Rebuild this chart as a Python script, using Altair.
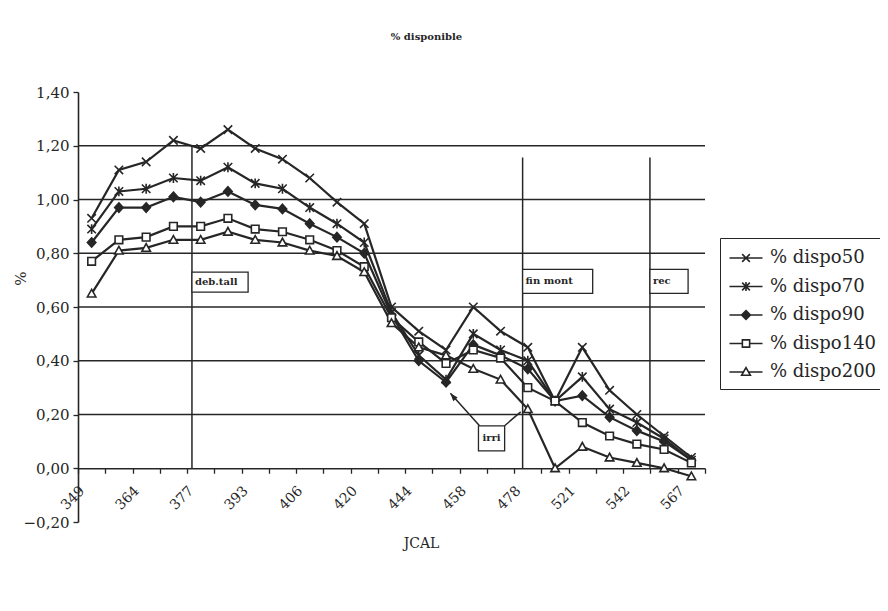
import altair as alt
import pandas as pd

# ---------------- data ----------------
tick_labels = ['349', '364', '377', '393', '406', '420', '444', '458', '478', '521', '542', '567']
series_names = ['% dispo50', '% dispo70', '% dispo90', '% dispo140', '% dispo200']

dispo50 = [0.93, 1.11, 1.14, 1.22, 1.19, 1.26, 1.19, 1.15, 1.08, 0.99, 0.91, 0.60,
           0.51, 0.44, 0.60, 0.51, 0.45, 0.25, 0.45, 0.29, 0.20, 0.12, 0.04]
dispo70 = [0.89, 1.03, 1.04, 1.08, 1.07, 1.12, 1.06, 1.04, 0.97, 0.91, 0.84, 0.58,
           0.42, 0.33, 0.50, 0.44, 0.40, 0.25, 0.34, 0.22, 0.17, 0.11, 0.03]
dispo90 = [0.84, 0.97, 0.97, 1.01, 0.99, 1.03, 0.98, 0.965, 0.91, 0.86, 0.80, 0.57,
           0.40, 0.32, 0.46, 0.42, 0.37, 0.25, 0.27, 0.19, 0.14, 0.10, 0.03]
dispo140 = [0.77, 0.85, 0.86, 0.90, 0.90, 0.93, 0.89, 0.88, 0.85, 0.81, 0.75, 0.56,
            0.47, 0.39, 0.44, 0.41, 0.30, 0.25, 0.17, 0.12, 0.09, 0.07, 0.02]
dispo200 = [0.65, 0.81, 0.82, 0.85, 0.85, 0.88, 0.85, 0.84, 0.81, 0.79, 0.73, 0.54,
            0.45, 0.42, 0.37, 0.33, 0.22, 0.00, 0.08, 0.04, 0.02, 0.00, -0.03]
all_series = [dispo50, dispo70, dispo90, dispo140, dispo200]

grid_values = [0.2, 0.4, 0.6, 0.8, 1.0, 1.2]

# phase markers (vertical lines + labelled boxes), in category-index units
phase_labels = ['deb.tall', 'fin mont', 'rec']
phase_x = [3.68, 15.81, 20.48]
phase_top = [1.20, 1.156, 1.156]
phase_box_x2 = [5.74, 18.38, 21.88]
phase_box_top = [0.73, 0.74, 0.74]
phase_box_bottom = [0.655, 0.651, 0.651]

# "irri" annotation
irri_label = ['irri']
irri_box_x = [14.19, 15.15]
irri_box_y = [0.158, 0.065]
irri_line_from_x = [14.23, 15.15]
irri_line_from_y = [0.158, 0.158]
irri_line_to_x = [13.16, 15.74]
irri_line_to_y = [0.279, 0.21]

# ---------------- tables ----------------
rows = []
for name, vals in zip(series_names, all_series):
    for i, v in enumerate(vals):
        rows.append({'idx': i, 'v': v, 'series': name})
df = pd.DataFrame(rows)
n = len(dispo50)

grid_df = pd.DataFrame({'g': grid_values})
phase_df = pd.DataFrame({'x': phase_x, 'top': phase_top, 'bottom': [0.0] * len(phase_x),
                         'x2': phase_box_x2, 'bt': phase_box_top, 'bb': phase_box_bottom,
                         'label': phase_labels})
phase_df['bm'] = (phase_df['bt'] + phase_df['bb']) / 2
irri_box_df = pd.DataFrame({'x': [irri_box_x[0]], 'x2': [irri_box_x[1]],
                            'bt': [irri_box_y[0]], 'bb': [irri_box_y[1]], 'label': irri_label})
irri_box_df['bm'] = (irri_box_df['bt'] + irri_box_df['bb']) / 2
irri_line_df = pd.DataFrame({'x': irri_line_from_x, 'y': irri_line_from_y,
                             'x2': irri_line_to_x, 'y2': irri_line_to_y})
arrow_df = pd.DataFrame({'x': [irri_line_to_x[0]], 'y': [irri_line_to_y[0]]})

# ---------------- styling ----------------
INK = '#262626'
SERIF = 'DejaVu Serif'
W, H = 627, 430

marker_paths = [
    'M-1,-1L1,1M-1,1L1,-1',
    'M-1,-1L1,1M-1,1L1,-1M0,-1.15L0,1.15',
    'M0,-1.1L1,0L0,1.1L-1,0Z',
    'M-0.9,-0.9H0.9V0.9H-0.9Z',
    'M0,-1L1,0.8H-1Z',
]
marker_fills = [INK, INK, INK, 'white', 'white']
# legend symbols: a short line with the marker in its middle (stroke only)
legend_paths = [
    'M-1.5,0H1.5M-0.35,-0.35L0.35,0.35M-0.35,0.35L0.35,-0.35',
    'M-1.5,0H1.5M-0.35,-0.35L0.35,0.35M-0.35,0.35L0.35,-0.35M0,-0.42V0.42',
    'M-1.5,0H1.5M0,-0.4L0.4,0L0,0.4L-0.4,0ZM0,-0.26L0.26,0L0,0.26L-0.26,0ZM0,-0.12L0.12,0L0,0.12L-0.12,0Z',
    'M-1.5,0H-0.33M0.33,0H1.5M-0.33,-0.33H0.33V0.33H-0.33Z',
    'M-1.5,0H-0.23M0.23,0H1.5M0,-0.4L0.4,0.3H-0.4Z',
]

xscale = alt.Scale(domain=[-0.5, n - 0.5], nice=False, zero=False)
yscale = alt.Scale(domain=[-0.2, 1.4], nice=False, zero=False)

labels_js = '[' + ','.join("'%s'" % t for t in tick_labels) + ']'
x_label_expr = ("(datum.value + 0.5) %% 2 == 0 && (datum.value + 0.5) <= %d ? %s[(datum.value + 0.5) / 2] : ''"
                % (n - 1, labels_js))

x_axis = alt.Axis(
    values=[i - 0.5 for i in range(n + 1)], labelExpr=x_label_expr,
    labelAngle=315, labelAlign='right', labelBaseline='middle',
    labelOffset=4, labelPadding=15, labelOverlap=False, labelFlush=False, labelBound=False,
    tickSize=5, tickColor=INK, tickWidth=1.3, domainColor=INK, domainWidth=1.6,
    offset=-H * 0.2 / 1.6, grid=False,
    labelFont=SERIF, labelFontSize=14, labelColor=INK,
    title='JCAL', titleFont=SERIF, titleFontSize=14, titleFontWeight='normal', titleColor=INK,
    titleX=343, titleY=75, titleAlign='center', titleBaseline='middle',
)
y_axis = alt.Axis(
    values=[-0.2, 0.0, 0.2, 0.4, 0.6, 0.8, 1.0, 1.2, 1.4],
    labelExpr="replace(format(datum.value, '.2f'), '.', ',')",
    tickSize=5, tickColor=INK, tickWidth=1.3, domainColor=INK, domainWidth=1.6,
    labelPadding=4, labelFont=SERIF, labelFontSize=15, labelColor=INK, grid=False,
    title='%', titleFont=SERIF, titleFontSize=15, titleFontWeight='normal', titleColor=INK,
    titleX=-58, titleY=186, titleAlign='center', titleBaseline='middle', titleAngle=270,
)


def X(f):
    return alt.X(f, type='quantitative', scale=xscale, axis=x_axis)


def Y(f):
    return alt.Y(f, type='quantitative', scale=yscale, axis=y_axis)


grid = alt.Chart(grid_df).mark_rule(color=INK, strokeWidth=1.4).encode(y=Y('g'))

phase_lines = alt.Chart(phase_df).mark_rule(color=INK, strokeWidth=1.5).encode(
    x=X('x'), y=Y('top'), y2='bottom')

lines = alt.Chart(df).mark_line(color=INK, strokeWidth=2.2).encode(
    x=X('idx'), y=Y('v'), detail='series:N')

points = alt.Chart(df).mark_point(filled=True, stroke=INK, strokeWidth=1.6, size=72, opacity=1).encode(
    x=X('idx'), y=Y('v'),
    shape=alt.Shape('series:N', scale=alt.Scale(domain=series_names, range=marker_paths), legend=None),
    fill=alt.Fill('series:N', scale=alt.Scale(domain=series_names, range=marker_fills), legend=None),
)

legend_layer = alt.Chart(df).transform_filter('false').mark_point(
    filled=False, color=INK, stroke=INK, strokeWidth=1.6, size=484, opacity=1
).encode(
    shape=alt.Shape('series:N', scale=alt.Scale(domain=series_names, range=legend_paths),
                    legend=alt.Legend(
                        title=None, orient='none', legendX=642, legendY=146, direction='vertical',
                        strokeColor=INK, fillColor='white', padding=8, cornerRadius=0,
                        symbolOffset=6, labelOffset=12, rowPadding=7.5,
                        symbolSize=484, symbolStrokeWidth=1.6, symbolStrokeColor=INK,
                        symbolOpacity=1,
                        labelFont=SERIF, labelFontSize=18, labelColor=INK, labelLimit=300,
                    ))
)

boxes = alt.Chart(phase_df).mark_rect(fill='white', stroke=INK, strokeWidth=1.3).encode(
    x=X('x'), x2='x2', y=Y('bt'), y2='bb')
box_text = alt.Chart(phase_df).mark_text(
    align='left', baseline='middle', dx=3, font=SERIF, fontSize=10, fontWeight='bold', color=INK
).encode(x=X('x'), y=Y('bm'), text='label')

irri_lines = alt.Chart(irri_line_df).mark_rule(color=INK, strokeWidth=1.5).encode(
    x=X('x'), y=Y('y'), x2='x2', y2='y2')
irri_box = alt.Chart(irri_box_df).mark_rect(fill='white', stroke=INK, strokeWidth=1.3).encode(
    x=X('x'), x2='x2', y=Y('bt'), y2='bb')
irri_text = alt.Chart(irri_box_df).mark_text(
    align='left', baseline='middle', dx=4, font=SERIF, fontSize=10, fontWeight='bold', color=INK
).encode(x=X('x'), y=Y('bm'), text='label')
arrow = alt.Chart(arrow_df).mark_point(
    shape='M0,0L-0.55,1.5L0.55,1.5Z', angle=320, size=110, filled=True, color=INK, opacity=1
).encode(x=X('x'), y=Y('y'))

chart = alt.layer(
    grid, phase_lines, lines, points, boxes, box_text, irri_lines, irri_box, irri_text, arrow, legend_layer
).resolve_scale(shape='independent').properties(
    width=W, height=H,
    title=alt.TitleParams('% disponible', font=SERIF, fontSize=10, fontWeight='bold', color=INK,
                          anchor='middle', frame='group', dx=35, offset=35, baseline='alphabetic'),
    autosize=alt.AutoSizeParams(type='none'),
    padding={'left': 70, 'top': 84, 'right': 175, 'bottom': 81},
    background='white',
).configure_view(stroke=None)

chart.save('out.html', embed_options={'renderer': 'svg', 'actions': False})
